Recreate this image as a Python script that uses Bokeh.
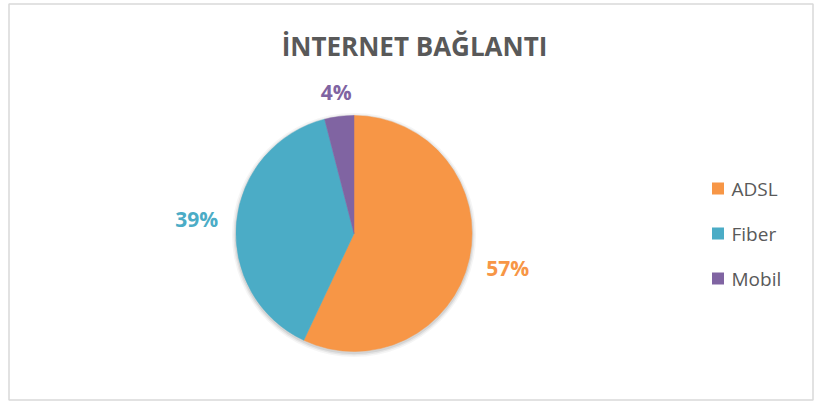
import numpy as np
from bokeh.plotting import figure
from bokeh.models import ColumnDataSource, Range1d
from bokeh.core.properties import value
from bokeh.embed import file_html
from bokeh.resources import INLINE

title = "İNTERNET BAĞLANTI"
categories = ["ADSL", "Fiber", "Mobil"]
values = [57, 39, 4]
colors = ["#F79646", "#4BACC6", "#8064A2"]

W, H = 814, 403
p = figure(width=W, height=H, output_backend="svg", toolbar_location=None,
           x_range=Range1d(0, W), y_range=Range1d(0, H), min_border=0)
p.axis.visible = False
p.grid.visible = False
p.outline_line_color = None
p.background_fill_color = "white"
p.border_fill_color = "white"

# chart border
p.quad(left=8.5, right=812.5, bottom=3.5, top=399.5, fill_color=None,
       line_color="#d9d9d9", line_width=1.5)

# pie geometry (in pixel-like data units)
cx, cy, r = 353.5, H - 233, 118
total = float(sum(values))
fr = np.array(values) / total
ends = np.pi / 2 - 2 * np.pi * np.cumsum(fr)
starts = np.concatenate([[np.pi / 2], ends[:-1]])
mids = (starts + ends) / 2

# soft shadow
for dr, a in [(4, 0.04), (2.5, 0.06), (1.2, 0.08)]:
    p.circle(x=[cx], y=[cy - 1.5], radius=r + dr, fill_color="#000000",
             fill_alpha=a, line_color=None)

src = ColumnDataSource(dict(start=starts, end=ends, color=colors, cat=categories))
p.wedge(x=cx, y=cy, radius=r, start_angle="start", end_angle="end",
        direction="clock", fill_color="color", line_color="color", line_width=0.5,
        source=src)

# data labels
dist = r + 22 + 18 * np.abs(np.cos(mids))
lx = cx + dist * np.cos(mids)
ly = cy + dist * np.sin(mids)
labels = [f"{v / total * 100:.0f}%" for v in values]
p.text(x=lx, y=ly, text=labels, text_color=colors, text_align="center",
       text_baseline="middle", text_font=value("Open Sans"),
       text_font_size="21px", text_font_style="bold")

# title
p.text(x=[414], y=[H - 45], text=[title], text_color="#595959",
       text_align="center", text_baseline="middle", text_font=value("Open Sans"),
       text_font_size="26px", text_font_style="bold")

# legend
leg_y = H - np.array([188, 233, 278])
p.rect(x=[717.5] * 3, y=leg_y, width=12, height=12, fill_color=colors, line_color=None)
p.text(x=[731] * 3, y=leg_y, text=categories, text_color="#595959",
       text_align="left", text_baseline="middle", text_font=value("Open Sans"),
       text_font_size="19px")

open("out.html", "w").write(file_html(p, INLINE))
